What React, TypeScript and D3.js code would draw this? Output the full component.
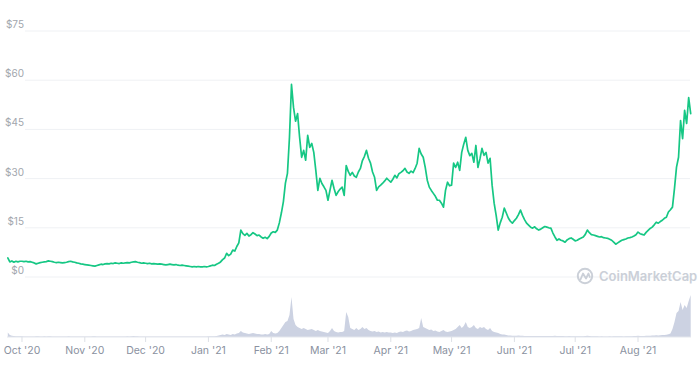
import React from "react";
import * as d3 from "d3";

// ---- data (daily, starting 2020-09-24) ----
const startDate = "2020-09-24";

const priceSep = [5.8, 4.6, 4.9, 4.5, 4.8, 4.6, 4.8];
const priceOct = [4.8, 4.7, 4.8, 4.6, 4.7, 4.5, 4.3, 4.0, 4.2, 4.4, 4.5, 4.6, 4.7, 4.9, 4.8, 4.7, 4.5, 4.4, 4.5, 4.4, 4.3, 4.4, 4.5, 4.7, 4.8, 4.6, 4.5, 4.3, 4.2, 4.0, 3.9];
const priceNov = [3.8, 3.7, 3.6, 3.5, 3.4, 3.3, 3.5, 3.7, 3.9, 3.8, 4.0, 4.1, 4.0, 4.2, 4.1, 4.3, 4.2, 4.1, 4.3, 4.2, 4.3, 4.4, 4.3, 4.5, 4.6, 4.7, 4.5, 4.4, 4.2, 4.3];
const priceDec = [4.2, 4.1, 4.2, 4.0, 4.1, 4.0, 3.9, 4.0, 3.9, 3.8, 3.7, 3.8, 3.9, 3.8, 3.7, 3.8, 3.6, 3.5, 3.6, 3.5, 3.4, 3.3, 3.2, 3.1, 3.2, 3.1, 3.2, 3.1, 3.1, 3.2, 3.1];
const priceJan = [3.2, 3.4, 3.6, 3.5, 3.9, 4.2, 4.6, 5.3, 5.8, 7.2, 6.5, 7.0, 8.2, 7.9, 9.3, 10.4, 14.3, 13.2, 12.7, 13.3, 12.5, 12.9, 13.5, 13.1, 12.6, 12.8, 12.2, 11.8, 12.1, 11.7, 12.4];
const priceFeb = [13.4, 13.8, 13.6, 14.3, 16.5, 19.5, 23.0, 28.6, 31.6, 42.6, 58.7, 51.7, 47.5, 49.8, 42.6, 36.5, 38.6, 35.6, 43.2, 39.5, 40.7, 38.0, 32.5, 26.4, 30.1, 28.5, 27.5, 26.4];
const priceMar = [23.4, 26.5, 29.5, 27.0, 24.9, 26.0, 26.8, 27.4, 24.9, 34.0, 32.2, 31.0, 31.9, 30.8, 30.4, 32.0, 33.1, 35.5, 36.8, 38.6, 36.2, 34.7, 32.0, 30.4, 26.4, 27.5, 28.0, 28.6, 29.3, 30.1, 29.5];
const priceApr = [28.9, 29.8, 31.0, 30.2, 31.5, 31.9, 32.4, 33.1, 32.0, 31.6, 32.3, 31.8, 33.1, 34.7, 39.2, 37.5, 36.5, 33.4, 29.5, 27.4, 26.4, 25.5, 24.6, 23.4, 23.4, 22.5, 21.3, 26.4, 28.9, 27.8];
const priceMay = [28.0, 34.7, 33.4, 35.0, 32.5, 38.0, 40.5, 42.6, 38.6, 37.0, 37.7, 35.0, 40.1, 33.4, 36.0, 39.2, 37.1, 38.0, 34.7, 36.2, 28.0, 22.5, 18.8, 14.3, 16.5, 18.2, 21.0, 19.5, 18.0, 17.0, 16.4];
const priceJun = [17.2, 17.9, 19.0, 20.4, 18.8, 17.5, 16.4, 15.8, 15.2, 14.9, 15.3, 14.7, 14.3, 14.6, 15.0, 15.4, 15.2, 15.0, 14.9, 13.4, 12.2, 11.2, 11.6, 11.2, 11.0, 10.6, 11.3, 11.7, 11.9, 11.5];
const priceJul = [11.0, 11.2, 11.6, 11.9, 12.2, 13.0, 14.3, 13.5, 12.9, 12.8, 12.6, 12.4, 12.2, 12.3, 12.0, 11.9, 11.8, 11.5, 11.2, 10.6, 10.0, 10.4, 10.8, 11.2, 11.4, 11.6, 11.9, 12.0, 12.2, 12.5, 12.9];
const priceAug = [13.7, 13.2, 13.0, 12.8, 13.6, 14.2, 14.8, 15.2, 15.9, 16.7, 16.4, 16.9, 17.3, 17.9, 18.2, 19.8, 20.5, 21.3, 27.0, 33.5, 36.5, 47.7, 42.2, 50.8, 46.8, 54.7, 49.8];

// volume in $B
const volSep = [0.45, 0.2, 0.12, 0.1, 0.08, 0.08, 0.07];
const volOct = [0.07, 0.06, 0.06, 0.05, 0.06, 0.05, 0.06, 0.08, 0.07, 0.06, 0.06, 0.07, 0.06, 0.08, 0.07, 0.06, 0.05, 0.05, 0.06, 0.05, 0.05, 0.06, 0.06, 0.07, 0.06, 0.05, 0.05, 0.06, 0.05, 0.06, 0.05];
const volNov = [0.05, 0.05, 0.06, 0.05, 0.07, 0.08, 0.06, 0.05, 0.05, 0.06, 0.05, 0.05, 0.06, 0.05, 0.05, 0.05, 0.06, 0.05, 0.06, 0.05, 0.06, 0.07, 0.06, 0.08, 0.09, 0.08, 0.07, 0.06, 0.05, 0.05];
const volDec = [0.05, 0.05, 0.05, 0.04, 0.05, 0.04, 0.04, 0.05, 0.05, 0.04, 0.05, 0.04, 0.04, 0.04, 0.05, 0.04, 0.05, 0.05, 0.04, 0.04, 0.05, 0.05, 0.06, 0.05, 0.04, 0.04, 0.05, 0.05, 0.05, 0.05, 0.06];
const volJan = [0.07, 0.08, 0.08, 0.07, 0.1, 0.15, 0.2, 0.25, 0.2, 0.3, 0.25, 0.2, 0.3, 0.25, 0.35, 0.4, 0.6, 0.45, 0.4, 0.35, 0.3, 0.35, 0.4, 0.35, 0.3, 0.3, 0.25, 0.25, 0.3, 0.25, 0.3];
const volFeb = [0.6, 0.4, 0.35, 0.4, 0.6, 0.9, 1.2, 1.5, 1.6, 2.2, 4.0, 1.8, 1.2, 1.0, 0.9, 0.8, 0.9, 0.8, 0.7, 0.75, 0.8, 0.7, 0.6, 0.7, 0.6, 0.55, 0.5, 0.45];
const volMar = [0.4, 0.6, 0.9, 0.6, 0.5, 0.45, 0.5, 0.5, 0.6, 2.5, 2.0, 0.9, 0.8, 0.7, 0.9, 0.7, 0.8, 1.0, 0.8, 0.9, 0.7, 0.6, 0.55, 0.6, 0.5, 0.55, 0.45, 0.5, 0.45, 0.5, 0.45];
const volApr = [0.45, 0.4, 0.45, 0.4, 0.5, 0.55, 0.5, 0.6, 0.65, 0.55, 0.6, 0.7, 0.75, 0.8, 0.9, 1.9, 1.0, 0.9, 0.8, 0.7, 0.75, 0.6, 0.65, 0.55, 0.5, 0.6, 0.7, 0.55, 0.5, 0.55];
const volMay = [0.6, 0.7, 0.8, 1.0, 1.2, 0.9, 1.1, 1.5, 1.0, 0.9, 1.0, 1.2, 0.9, 0.8, 1.0, 0.9, 1.0, 0.8, 0.7, 0.9, 0.6, 0.5, 0.45, 0.4, 0.3, 0.25, 0.25, 0.2, 0.15, 0.15, 0.12];
const volJun = [0.12, 0.12, 0.15, 0.13, 0.12, 0.1, 0.1, 0.11, 0.1, 0.1, 0.09, 0.1, 0.09, 0.1, 0.1, 0.09, 0.1, 0.09, 0.09, 0.1, 0.12, 0.11, 0.1, 0.09, 0.09, 0.08, 0.08, 0.09, 0.08, 0.08];
const volJul = [0.08, 0.08, 0.07, 0.07, 0.08, 0.1, 0.12, 0.1, 0.08, 0.08, 0.07, 0.07, 0.06, 0.07, 0.06, 0.06, 0.06, 0.07, 0.06, 0.07, 0.08, 0.08, 0.07, 0.07, 0.06, 0.07, 0.07, 0.08, 0.08, 0.09, 0.1];
const volAug = [0.12, 0.1, 0.1, 0.1, 0.12, 0.12, 0.13, 0.15, 0.15, 0.18, 0.15, 0.18, 0.2, 0.2, 0.22, 0.28, 0.35, 0.8, 1.5, 2.4, 2.6, 3.5, 2.7, 3.2, 2.9, 3.6, 4.2];

const yTicks = [0, 15, 30, 45, 60, 75];
const monthTicks = ["2020-10-01", "2020-11-01", "2020-12-01", "2021-01-01", "2021-02-01", "2021-03-01", "2021-04-01", "2021-05-01", "2021-06-01", "2021-07-01", "2021-08-01"];
const monthLabels = ["Oct '20", "Nov '20", "Dec '20", "Jan '21", "Feb '21", "Mar '21", "Apr '21", "May '21", "Jun '21", "Jul '21", "Aug '21"];

export default function App() {
  const W = 700;
  const H = 365;
  const prices = [...priceSep, ...priceOct, ...priceNov, ...priceDec, ...priceJan, ...priceFeb, ...priceMar, ...priceApr, ...priceMay, ...priceJun, ...priceJul, ...priceAug];
  const volumes = [...volSep, ...volOct, ...volNov, ...volDec, ...volJan, ...volFeb, ...volMar, ...volApr, ...volMay, ...volJun, ...volJul, ...volAug];
  const parse = d3.utcParse("%Y-%m-%d");
  const t0 = parse(startDate) as Date;
  const data = prices.map((p, i) => ({ date: d3.utcDay.offset(t0, i), price: p, vol: volumes[i] ?? 0 }));

  const x = d3.scaleUtc().domain([data[0].date, data[data.length - 1].date]).range([7.8, 690.7]);
  const y = d3.scaleLinear().domain([0, 75]).range([277, 31]);
  const yv = d3.scaleLinear().domain([0, 4.2]).range([337, 295]);

  const line = d3.line<any>().x((d) => x(d.date)).y((d) => y(d.price));
  const area = d3.area<any>().x((d) => x(d.date)).y0(yv(0)).y1((d) => yv(d.vol));

  const font = "Inter, 'Noto Sans', sans-serif";

  return (
    <svg width={W} height={H} style={{ position: "absolute", left: 0, top: 0, display: "block", background: "#fff" }}>
      {yTicks.map((t) => (
        <g key={t}>
          <line x1={25} x2={690} y1={y(t)} y2={y(t)} stroke="#eff1f4" strokeWidth={1} />
          <text x={24} y={y(t) - 3} textAnchor="end" fontFamily={font} fontSize={10} fill="#a2a6ad">
            {"$" + t}
          </text>
        </g>
      ))}

      {/* watermark */}
      <g opacity={0.9}>
        <circle cx={585} cy={276} r={7.2} fill="none" stroke="#c6cbd4" strokeWidth={2} />
        <path d="M580.5 279.5 L583 273.5 L586 278.5 L588.5 273.5 L589.8 277" fill="none" stroke="#c6cbd4" strokeWidth={1.8} strokeLinejoin="round" strokeLinecap="round" />
        <text x={599} y={281} fontFamily={font} fontSize={13} fontWeight={600} fill="#c6cbd4">
          CoinMarketCap
        </text>
      </g>

      {/* volume */}
      <path d={area(data) || ""} fill="#ccd2e2" />
      <line x1={7} x2={691} y1={yv(0)} y2={yv(0)} stroke="#e4e7ed" strokeWidth={1} />
      {monthTicks.map((m, i) => {
        const xx = x(parse(m) as Date);
        return (
          <g key={m}>
            <line x1={xx} x2={xx} y1={yv(0)} y2={yv(0) + 5} stroke="#dde0e6" strokeWidth={1} />
            <text x={xx} y={354} textAnchor="middle" fontFamily={font} fontSize={10.5} fill="#8a91a0">
              {monthLabels[i]}
            </text>
          </g>
        );
      })}

      {/* price line */}
      <path d={line(data) || ""} fill="none" stroke="#16c784" strokeWidth={1.7} strokeLinejoin="round" strokeLinecap="round" />
    </svg>
  );
}
